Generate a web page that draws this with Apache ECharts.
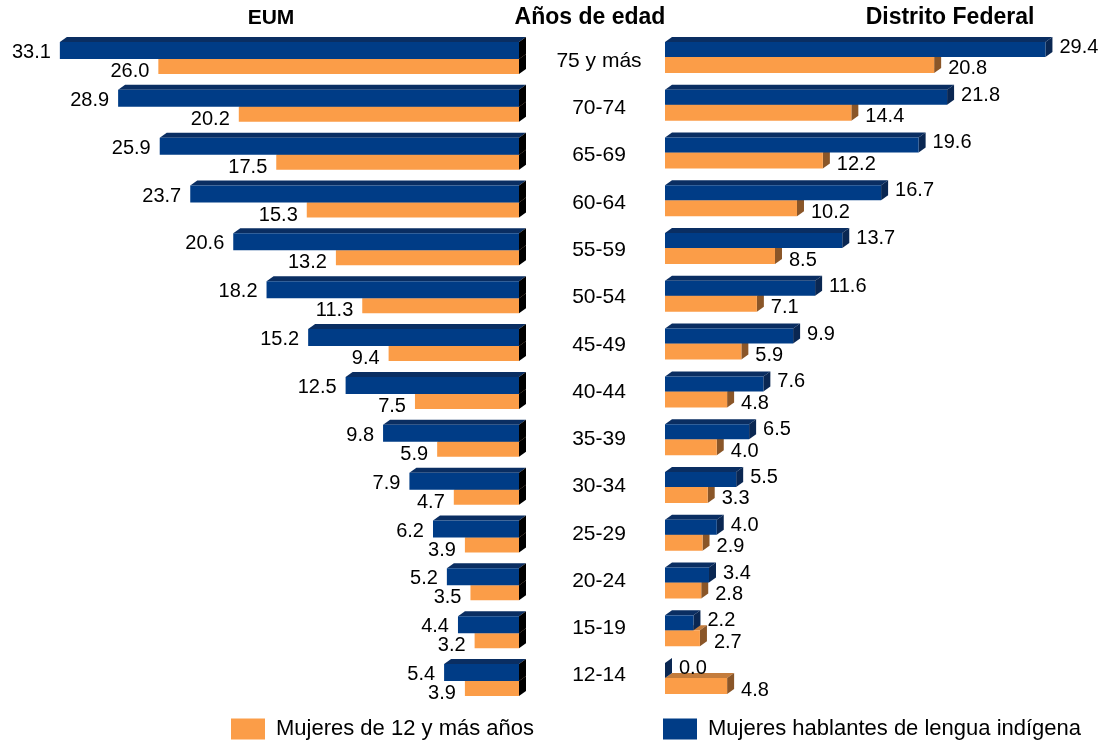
<!DOCTYPE html>
<html><head><meta charset="utf-8">
<script src="https://cdn.jsdelivr.net/npm/echarts@6/dist/echarts.min.js"></script>
<style>html,body{margin:0;padding:0;background:#fff}#c{width:1101px;height:744px}</style>
</head><body><div id="c"></div>
<script>
const categories = ['75 y más','70-74','65-69','60-64','55-59','50-54','45-49','40-44','35-39','30-34','25-29','20-24','15-19','12-14'];
const eumIndigena = [33.1,28.9,25.9,23.7,20.6,18.2,15.2,12.5,9.8,7.9,6.2,5.2,4.4,5.4];
const eumTotal = [26.0,20.2,17.5,15.3,13.2,11.3,9.4,7.5,5.9,4.7,3.9,3.5,3.2,3.9];
const dfIndigena = [29.4,21.8,19.6,16.7,13.7,11.6,9.9,7.6,6.5,5.5,4.0,3.4,2.2,0.0];
const dfTotal = [20.8,14.4,12.2,10.2,8.5,7.1,5.9,4.8,4.0,3.3,2.9,2.8,2.7,4.8];
const nameTotal = 'Mujeres de 12 y más años';
const nameInd = 'Mujeres hablantes de lengua indígena';
const headers = ['EUM','Años de edad','Distrito Federal'];

const FONT = '"Liberation Sans", Arial, Helvetica, sans-serif';
const BLUE = '#003c86', ORANGE = '#fb9d48';
const DX = 7, DY = 5;

function renderBar(o) {
  return function (params, api) {
    const idx = api.value(1);
    const v = api.value(0);
    const p0 = api.coord([0, idx]);
    const p1 = api.coord([v, idx]);
    const xa = Math.min(p0[0], p1[0]), xb = Math.max(p0[0], p1[0]);
    const yc = p0[1];
    const yt = o.upper ? yc - o.h : yc;
    const yb = o.upper ? yc : yc + o.h;
    const lx = o.leftSide ? xa - 9 : xb + DX + 7;
    return {
      type: 'group',
      children: [
        {type: 'polygon', shape: {points: [[xa, yt], [xa + DX, yt - DY], [xb + DX, yt - DY], [xb, yt]]}, style: {fill: o.top}},
        {type: 'polygon', shape: {points: [[xb, yt], [xb + DX, yt - DY], [xb + DX, yb - DY], [xb, yb]]}, style: {fill: o.side}},
        {type: 'rect', shape: {x: xa, y: yt, width: xb - xa, height: yb - yt}, style: {fill: o.front}},
        {type: 'text', style: {text: v.toFixed(1), x: lx, y: (yt + yb) / 2 + o.dy,
          textAlign: o.leftSide ? 'right' : 'left', textVerticalAlign: 'middle',
          font: '20px ' + FONT, fill: '#000'}}
      ]
    };
  };
}

const chart = echarts.init(document.getElementById('c'));
const hidden = {show: false};
chart.setOption({
  animation: false,
  backgroundColor: '#fff',
  grid: [
    {left: 33.5, width: 485.5, top: 35, bottom: 39},
    {left: 665, width: 388.2, top: 33, bottom: 42},
    {left: 599, width: 1, top: 37.4, bottom: 44.7}
  ],
  xAxis: [
    {gridIndex: 0, type: 'value', min: 0, max: 35, inverse: true, show: false},
    {gridIndex: 1, type: 'value', min: 0, max: 30, show: false},
    {gridIndex: 2, type: 'value', min: 0, max: 1, show: false}
  ],
  yAxis: [
    {gridIndex: 0, type: 'category', data: categories, inverse: true, show: false},
    {gridIndex: 1, type: 'category', data: categories, inverse: true, show: false},
    {gridIndex: 2, type: 'category', data: categories, inverse: true, position: 'left',
      axisLine: hidden, axisTick: hidden, splitLine: hidden,
      axisLabel: {show: true, align: 'center', margin: 0, fontSize: 21, color: '#000', fontFamily: FONT}}
  ],
  legend: [
    {data: [nameTotal], left: 231, top: 718, padding: 0, itemWidth: 34, itemHeight: 21, icon: 'rect', selectedMode: false,
      textStyle: {fontSize: 22, color: '#000', fontFamily: FONT, padding: [2, 0, 0, 6]}},
    {data: [nameInd], left: 663, top: 718, padding: 0, itemWidth: 34, itemHeight: 21, icon: 'rect', selectedMode: false,
      textStyle: {fontSize: 22, color: '#000', fontFamily: FONT, padding: [2, 0, 0, 6]}}
  ],
  graphic: [
    {type: 'text', x: 271, y: 18, style: {text: headers[0], textAlign: 'center', textVerticalAlign: 'middle', font: 'bold 21px ' + FONT, fill: '#000'}},
    {type: 'text', x: 590, y: 18, style: {text: headers[1], textAlign: 'center', textVerticalAlign: 'middle', font: 'bold 23px ' + FONT, fill: '#000'}},
    {type: 'text', x: 950, y: 18, style: {text: headers[2], textAlign: 'center', textVerticalAlign: 'middle', font: 'bold 23px ' + FONT, fill: '#000'}}
  ],
  series: [
    {type: 'custom', name: nameTotal, xAxisIndex: 0, yAxisIndex: 0, encode: {x: 0, y: 1}, itemStyle: {color: ORANGE},
      data: eumTotal.map((v, i) => [v, i]),
      renderItem: renderBar({upper: false, h: 15, dy: 5, leftSide: true, front: ORANGE, top: '#c47c3c', side: '#000'})},
    {type: 'custom', name: nameInd, xAxisIndex: 0, yAxisIndex: 0, encode: {x: 0, y: 1}, itemStyle: {color: BLUE},
      data: eumIndigena.map((v, i) => [v, i]),
      renderItem: renderBar({upper: true, h: 17, dy: 2, leftSide: true, front: BLUE, top: '#0a2e62', side: '#000'})},
    {type: 'custom', name: nameTotal, xAxisIndex: 1, yAxisIndex: 1, encode: {x: 0, y: 1}, itemStyle: {color: ORANGE},
      data: dfTotal.map((v, i) => [v, i]),
      renderItem: renderBar({upper: false, h: 16, dy: 4, leftSide: false, front: ORANGE, top: '#c47c3c', side: '#8a5628'})},
    {type: 'custom', name: nameInd, xAxisIndex: 1, yAxisIndex: 1, encode: {x: 0, y: 1}, itemStyle: {color: BLUE},
      data: dfIndigena.map((v, i) => [v, i]),
      renderItem: renderBar({upper: true, h: 15, dy: -2, leftSide: false, front: BLUE, top: '#0a2e62', side: '#0a2752'})}
  ]
});
</script>
</body></html>
